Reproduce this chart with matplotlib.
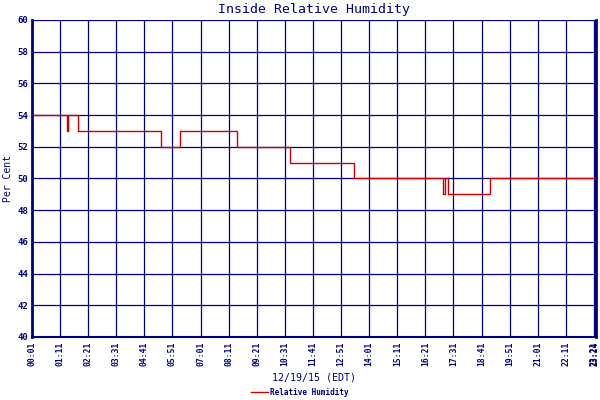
import matplotlib
matplotlib.use("Agg")
import matplotlib.pyplot as plt

# minutes after midnight and humidity (%) at each change
minutes = [1, 88, 90, 115, 322, 370, 511, 643, 804, 1026, 1029, 1037, 1142, 1404]
humidity = [54, 53, 54, 53, 52, 53, 52, 51, 50, 49, 50, 49, 50, 50]

tick_minutes = list(range(1, 1402, 70)) + [1404]
tick_labels = ["%02d:%02d" % (m // 60, m % 60) for m in tick_minutes]
y_ticks = list(range(40, 61, 2))

navy = "#000080"
plt.rcParams['font.family'] = ['DejaVu Sans Mono']

fig = plt.figure(figsize=(6, 4), dpi=100)
ax = fig.add_axes([32/600, 63/400, 564/600, 317/400])

ax.plot(minutes, humidity, drawstyle="steps-post", color="#cc0000", lw=1.0,
        label="Relative Humidity")

ax.set_xlim(1, 1406)
ax.set_ylim(40, 60)
ax.set_xticks(tick_minutes)
ax.set_xticklabels(tick_labels, rotation=90, fontsize=5.8, fontweight="bold", color=navy)
ax.set_yticks(y_ticks)
ax.set_yticklabels(y_ticks, fontsize=6.5, fontweight="bold", color=navy)
ax.tick_params(length=0, pad=3)
ax.grid(True, color=navy, lw=0.9)
for s in ax.spines.values():
    s.set_color(navy)
ax.spines["left"].set_linewidth(2)
ax.spines["bottom"].set_linewidth(1.5)
ax.spines["right"].set_linewidth(2)
ax.spines["top"].set_visible(False)

ax.set_title("Inside Relative Humidity", fontsize=9.5, color=navy, pad=5)
ax.set_xlabel("12/19/15 (EDT)", fontsize=7.2, color=navy, labelpad=5)
ax.set_ylabel("Per Cent", fontsize=7, color=navy, labelpad=3)

fig.legend(loc="lower center", bbox_to_anchor=(0.5, -0.01), frameon=False,
           prop={"size": 5.5, "weight": "bold"}, handlelength=2.2, handletextpad=0.3,
           labelcolor=navy)

fig.savefig("out.png", dpi=100)
